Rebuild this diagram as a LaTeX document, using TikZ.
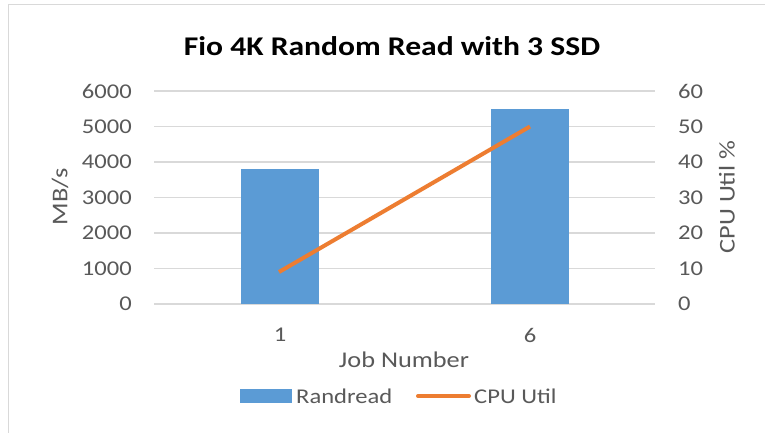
\documentclass[tikz,border=0pt]{standalone}
\usepackage{graphicx}
\usepackage{fontspec}
\setmainfont{Carlito}
\definecolor{gridc}{HTML}{D9D9D9}
\definecolor{txt}{HTML}{595959}
\definecolor{barc}{HTML}{5B9BD5}
\definecolor{linec}{HTML}{ED7D31}
\newcommand{\widetxt}[1]{\scalebox{1.17}[1]{#1}}
\begin{document}
\begin{tikzpicture}[x=1pt,y=-1pt,
  gridline/.style={draw=gridc,line width=1.5pt},
  ticklab/.style={text=txt,font=\fontsize{21}{24}\selectfont,inner sep=0pt},
  axlab/.style={text=txt,font=\fontsize{22.5}{26}\selectfont,inner sep=0pt},
  bar/.style={fill=barc},
  cpuline/.style={draw=linec,line width=4pt}]
\useasboundingbox (0,0) rectangle (765,432);
\fill[white] (0,0) rectangle (765,432);
\draw[gridc,line width=1pt] (8,440) -- (8,4) -- (770,4);
\node[font=\bfseries\fontsize{27}{32}\selectfont,inner sep=0pt] (title) at (392,46) {\widetxt{Fio 4K Random Read with 3 SSD}};
\foreach \i in {0,...,6}{
  \draw[gridline] (154,{304-35.5*\i}) -- (655,{304-35.5*\i});
  \node[ticklab,anchor=east] (L\i) at (132,{304-35.5*\i}) {\pgfmathparse{int(1000*\i)}\widetxt{\pgfmathresult}};
  \node[ticklab,anchor=west] (R\i) at (678,{304-35.5*\i}) {\pgfmathparse{int(10*\i)}\widetxt{\pgfmathresult}};
}
\fill[bar] (241,304) rectangle (319,169.1);
\fill[bar] (491,304) rectangle (569,108.75);
\coordinate (p1) at (279,272);
\coordinate (p2) at (530,126.5);
\draw[cpuline] (p1) -- (p2);
\node[ticklab] (c1) at (280,335) {\widetxt{1}};
\node[ticklab] (c6) at (530,335) {\widetxt{6}};
\node[axlab] (xl) at (404,360) {\widetxt{Job Number}};
\node[axlab,rotate=90] (yl) at (60,197) {\widetxt{MB/s}};
\node[axlab,rotate=90] (yr) at (727,197) {\widetxt{CPU Util \%}};
\fill[bar] (240,389) rectangle (292,403);
\node[ticklab,anchor=west] (lg1) at (296,396) {\widetxt{Randread}};
\coordinate (o1) at (418,396);
\coordinate (o2) at (469,396);
\draw[cpuline,line cap=round] (o1) -- (o2);
\node[ticklab,anchor=west] (lg2) at (474,396) {\widetxt{CPU Util}};
\end{tikzpicture}
\end{document}
